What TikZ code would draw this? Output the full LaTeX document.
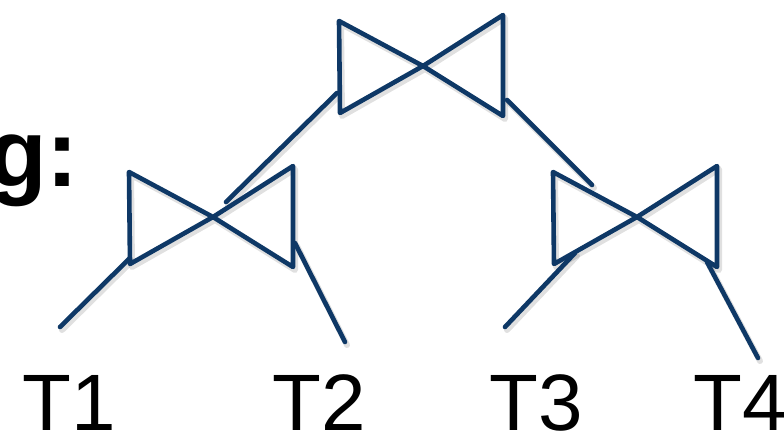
\documentclass[tikz,border=0pt]{standalone}
\usepackage{fontspec}
\setmainfont{Liberation Sans}

\definecolor{joinblue}{RGB}{14,56,102}

\tikzset{
  joinline/.style={draw=joinblue, line width=4.6pt, line join=round, line cap=round},
  ombre/.style={draw=black, opacity=0.12, line width=6pt, line join=round, line cap=round},
  feuille/.style={inner sep=0pt, anchor=base west, font=\fontsize{80}{80}\selectfont},
  titre/.style={inner sep=0pt, anchor=base east, font=\fontsize{96}{96}\selectfont\bfseries},
  % symbole de jointure (noeud papillon)
  joinsym/.pic={
    \path[pic actions] (0,0) -- (-84,-45) -- (-83,47) -- cycle
                       (0,0) -- (80,-51) -- (80,50) -- cycle;
  }
}

\begin{document}
\begin{tikzpicture}[x=1pt,y=-1pt]

		\useasboundingbox (0,0) rectangle (784,435);
		\clip (0,0) rectangle (784,435);

		% fin du titre, coupé par le bord gauche
		\node[titre] (titre) at (79,187) {g:};

		% Centres des jointures
		\coordinate (j0) at (423,66);
		\coordinate (j1) at (213,217);
		\coordinate (j2) at (637,217);

		% Extrémités des traits entre jointures
		\coordinate (h1) at (337,93);  \coordinate (b1) at (226,202);
		\coordinate (h2) at (507,100); \coordinate (b2) at (592,185);

		% Extrémités des traits vers les tables
		\coordinate (g1) at (130,258); \coordinate (f1) at (60,327);
		\coordinate (g2) at (295,243); \coordinate (f2) at (345,342);
		\coordinate (g3) at (575,253); \coordinate (f3) at (505,327);
		\coordinate (g4) at (707,262); \coordinate (f4) at (758,358);

		% Tables T1 ... T4
		\node[feuille] (t1) at (22,430) {T1};
		\node[feuille] (t2) at (272,430) {T2};
		\node[feuille] (t3) at (489,430) {T3};
		\node[feuille] (t4) at (693,430) {T4};

		% ombre d'abord, puis le trait
		\foreach \trait/\dx/\dy in {ombre/2pt/-3pt, joinline/0pt/0pt} {
			\begin{scope}[transform canvas={shift={(\dx,\dy)}}]
				\pic[\trait] at (j0) {joinsym};
				\pic[\trait] at (j1) {joinsym};
				\pic[\trait] at (j2) {joinsym};
				\draw[\trait] (h1) -- (b1);  % j0 -> j1
				\draw[\trait] (h2) -- (b2);  % j0 -> j2
				\foreach \i in {1,...,4}
					\draw[\trait] (g\i) -- (f\i);  % jointure -> T\i
			\end{scope}
		}

	\end{tikzpicture}
\end{document}
